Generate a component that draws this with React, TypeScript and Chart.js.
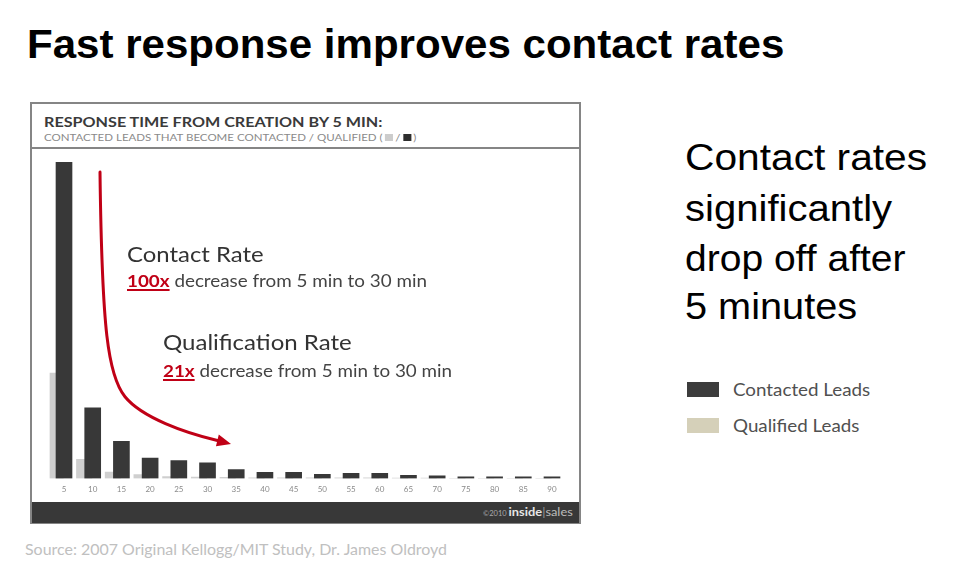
import React, { useEffect, useLayoutEffect, useRef } from "react";
import { Chart, registerables } from "chart.js";

Chart.register(...registerables);

// ---------- data ----------
const categories = ["5", "10", "15", "20", "25", "30", "35", "40", "45", "50", "55", "60", "65", "70", "75", "80", "85", "90"];
// indexed to contacted leads at 5 min = 100
const contactedLeads = [100, 22.3, 11.7, 6.4, 5.6, 4.9, 2.8, 1.9, 1.9, 1.3, 1.6, 1.6, 1.0, 0.8, 0.5, 0.5, 0.5, 0.5];
const qualifiedLeads = [33.3, 6.0, 2.0, 1.2, 0.6, 0.4, 0.3, 0.2, 0.2, 0.2, 0.2, 0.2, 0.1, 0.1, 0, 0, 0, 0];
const yMax = 100;
// annotation arrow, in data units [category index, value]
const arrowCurve = [
  [1.254, 96.8],
  [1.324, 46.75], [1.533, 32.5], [2.125, 25.8],
  [2.717, 19.2], [4.215, 14.4], [5.344, 12.0],
];
const arrowHead = [[5.818, 10.9], [5.294, 10.2], [5.392, 13.85]];

const SANS = '"Liberation Sans", Arial, sans-serif';
const LATO = 'Lato, "Open Sans", sans-serif';
const RED = "#c00016";

type TProps = {
  x: number;
  baseline: number;
  size: number;
  family: string;
  weight?: number | string;
  color: string;
  width?: number;
  children: React.ReactNode;
};

function Txt({ x, baseline, size, family, weight = 400, color, width, children }: TProps) {
  const ref = useRef<HTMLSpanElement>(null);
  const L = size * 1.5;
  useLayoutEffect(() => {
    const el = ref.current;
    if (!el) return;
    const c = document.createElement("canvas").getContext("2d");
    if (!c) return;
    c.font = `${weight} ${size}px ${family}`;
    const m = c.measureText("Hg");
    const A = m.fontBoundingBoxAscent || size * 0.9;
    const D = m.fontBoundingBoxDescent || size * 0.2;
    el.style.top = `${baseline - (L - A - D) / 2 - A}px`;
    if (width) {
      const nat = el.offsetWidth;
      if (nat > 0) el.style.transform = `scaleX(${width / nat})`;
    }
  });
  return (
    <span
      ref={ref}
      style={{
        position: "absolute",
        left: x,
        top: baseline - size,
        lineHeight: `${L}px`,
        fontSize: size,
        fontFamily: family,
        fontWeight: weight as any,
        color,
        whiteSpace: "nowrap",
        transformOrigin: "0 0",
        display: "block",
      }}
    >
      {children}
    </span>
  );
}

const arrowPlugin = {
  id: "arrowAnnotation",
  afterDatasetsDraw(chart: any) {
    const { ctx } = chart;
    const xs = chart.scales.x;
    const ys = chart.scales.y;
    const P = (p: number[]) => [xs.getPixelForValue(p[0]), ys.getPixelForValue(p[1])];
    const pts = arrowCurve.map(P);
    ctx.save();
    ctx.strokeStyle = RED;
    ctx.fillStyle = RED;
    ctx.lineWidth = 3;
    ctx.lineCap = "round";
    ctx.beginPath();
    ctx.moveTo(pts[0][0], pts[0][1]);
    ctx.bezierCurveTo(pts[1][0], pts[1][1], pts[2][0], pts[2][1], pts[3][0], pts[3][1]);
    ctx.bezierCurveTo(pts[4][0], pts[4][1], pts[5][0], pts[5][1], pts[6][0], pts[6][1]);
    ctx.stroke();
    const h = arrowHead.map(P);
    ctx.beginPath();
    ctx.moveTo(h[0][0], h[0][1]);
    ctx.lineTo(h[1][0], h[1][1]);
    ctx.lineTo(h[2][0], h[2][1]);
    ctx.closePath();
    ctx.fill();
    ctx.restore();
  },
};

function BarChart() {
  const ref = useRef<HTMLCanvasElement>(null);
  useEffect(() => {
    if (!ref.current) return;
    const chart = new Chart(ref.current, {
      type: "bar",
      data: {
        labels: categories,
        datasets: [
          {
            label: "Contacted Leads",
            data: contactedLeads,
            backgroundColor: "#383838",
            borderWidth: 0,
            grouped: false,
            barThickness: 16,
          } as any,
          {
            label: "Qualified Leads",
            data: qualifiedLeads,
            backgroundColor: "#cfcfcf",
            borderWidth: 0,
            stack: "qualified",
            barThickness: 17,
            maxBarThickness: 15.5,
          } as any,
          {
            label: "",
            data: categories.map(() => null),
            backgroundColor: "rgba(0,0,0,0)",
            borderWidth: 0,
            stack: "spacer",
            barThickness: 17,
          } as any,
        ],
      },
      options: {
        animation: false,
        responsive: false,
        devicePixelRatio: 1,
        layout: { padding: { left: 17.65, right: 13.65, top: 13, bottom: 2 } },
        plugins: { legend: { display: false }, tooltip: { enabled: false } },
        scales: {
          x: {
            offset: true,
            grid: { display: false, drawTicks: false },
            border: { display: false },
            ticks: {
              color: "#8a8a8a",
              font: { size: 8, family: LATO },
              padding: 6,
              maxRotation: 0,
              autoSkip: false,
            },
          },
          y: { display: false, min: 0, max: yMax },
        },
      },
      plugins: [arrowPlugin],
    } as any);
    return () => chart.destroy();
  }, []);
  return <canvas ref={ref} width={548} height={353} style={{ position: "absolute", left: 32, top: 149, width: 548, height: 353 }} />;
}

export default function App() {
  const sq = (bg: string) => (
    <span style={{ display: "inline-block", width: 7, height: 7, background: bg, margin: "0 2px", verticalAlign: "0px" }} />
  );
  return (
    <div style={{ position: "absolute", left: 0, top: 0, width: 958, height: 568, background: "#fff", overflow: "hidden" }}>
      <Txt x={27} baseline={58} size={40} family={SANS} weight={700} color="#000" width={757}>
        Fast response improves contact rates
      </Txt>

      {/* chart frame */}
      <div style={{ position: "absolute", left: 30, top: 102, width: 551, height: 422, border: "2px solid #858585", boxSizing: "border-box" }} />
      <div style={{ position: "absolute", left: 30, top: 147, width: 551, height: 2, background: "#858585" }} />
      <div style={{ position: "absolute", left: 32, top: 502, width: 547, height: 21, background: "#383838" }} />

      <Txt x={44} baseline={127} size={14} family={LATO} weight={700} color="#3a3a3a" width={338}>
        RESPONSE TIME FROM CREATION BY 5 MIN:
      </Txt>
      <Txt x={44} baseline={141} size={10} family={LATO} weight={400} color="#8a8a8a" width={372}>
        CONTACTED LEADS THAT BECOME CONTACTED / QUALIFIED ({sq("#cccccc")}/{sq("#2e2e2e")})
      </Txt>

      <BarChart />

      <Txt x={127} baseline={262} size={22} family={LATO} color="#333" width={137}>
        Contact Rate
      </Txt>
      <Txt x={127} baseline={287} size={17} family={LATO} color="#444" width={300}>
        <span style={{ color: RED, fontWeight: 700, textDecoration: "underline", textDecorationThickness: "2px", textUnderlineOffset: "2px" }}>100x</span> decrease from 5 min to 30 min
      </Txt>
      <Txt x={163} baseline={350} size={22} family={LATO} color="#333" width={189}>
        Qualification Rate
      </Txt>
      <Txt x={163} baseline={377} size={17} family={LATO} color="#444" width={289}>
        <span style={{ color: RED, fontWeight: 700, textDecoration: "underline", textDecorationThickness: "2px", textUnderlineOffset: "2px" }}>21x</span> decrease from 5 min to 30 min
      </Txt>

      <Txt x={483} baseline={516} size={12} family={LATO} color="#bbbbbb" width={90}>
        <span style={{ fontSize: 7, color: "#aaaaaa" }}>©2010 </span>
        <span style={{ fontWeight: 700, color: "#e6e6e6" }}>inside</span>
        <span style={{ color: "#999" }}>|</span>
        <span>sales</span>
      </Txt>

      {/* right side */}
      <Txt x={685} baseline={170} size={36} family={SANS} color="#000" width={242}>
        Contact rates
      </Txt>
      <Txt x={685} baseline={221} size={36} family={SANS} color="#000" width={207}>
        significantly
      </Txt>
      <Txt x={685} baseline={271} size={36} family={SANS} color="#000" width={220}>
        drop off after
      </Txt>
      <Txt x={685} baseline={319} size={36} family={SANS} color="#000" width={172}>
        5 minutes
      </Txt>

      <div style={{ position: "absolute", left: 687, top: 382, width: 32, height: 15, background: "#3c3c3c" }} />
      <Txt x={733} baseline={396} size={17} family={LATO} color="#505050" width={137}>
        Contacted Leads
      </Txt>
      <div style={{ position: "absolute", left: 687, top: 418, width: 32, height: 15, background: "#d5d0b9" }} />
      <Txt x={733} baseline={432} size={17} family={LATO} color="#505050" width={127}>
        Qualified Leads
      </Txt>

      <Txt x={25} baseline={555} size={15} family={LATO} color="#c0c0c0" width={422}>
        Source: 2007 Original Kellogg/MIT Study, Dr. James Oldroyd
      </Txt>
    </div>
  );
}
